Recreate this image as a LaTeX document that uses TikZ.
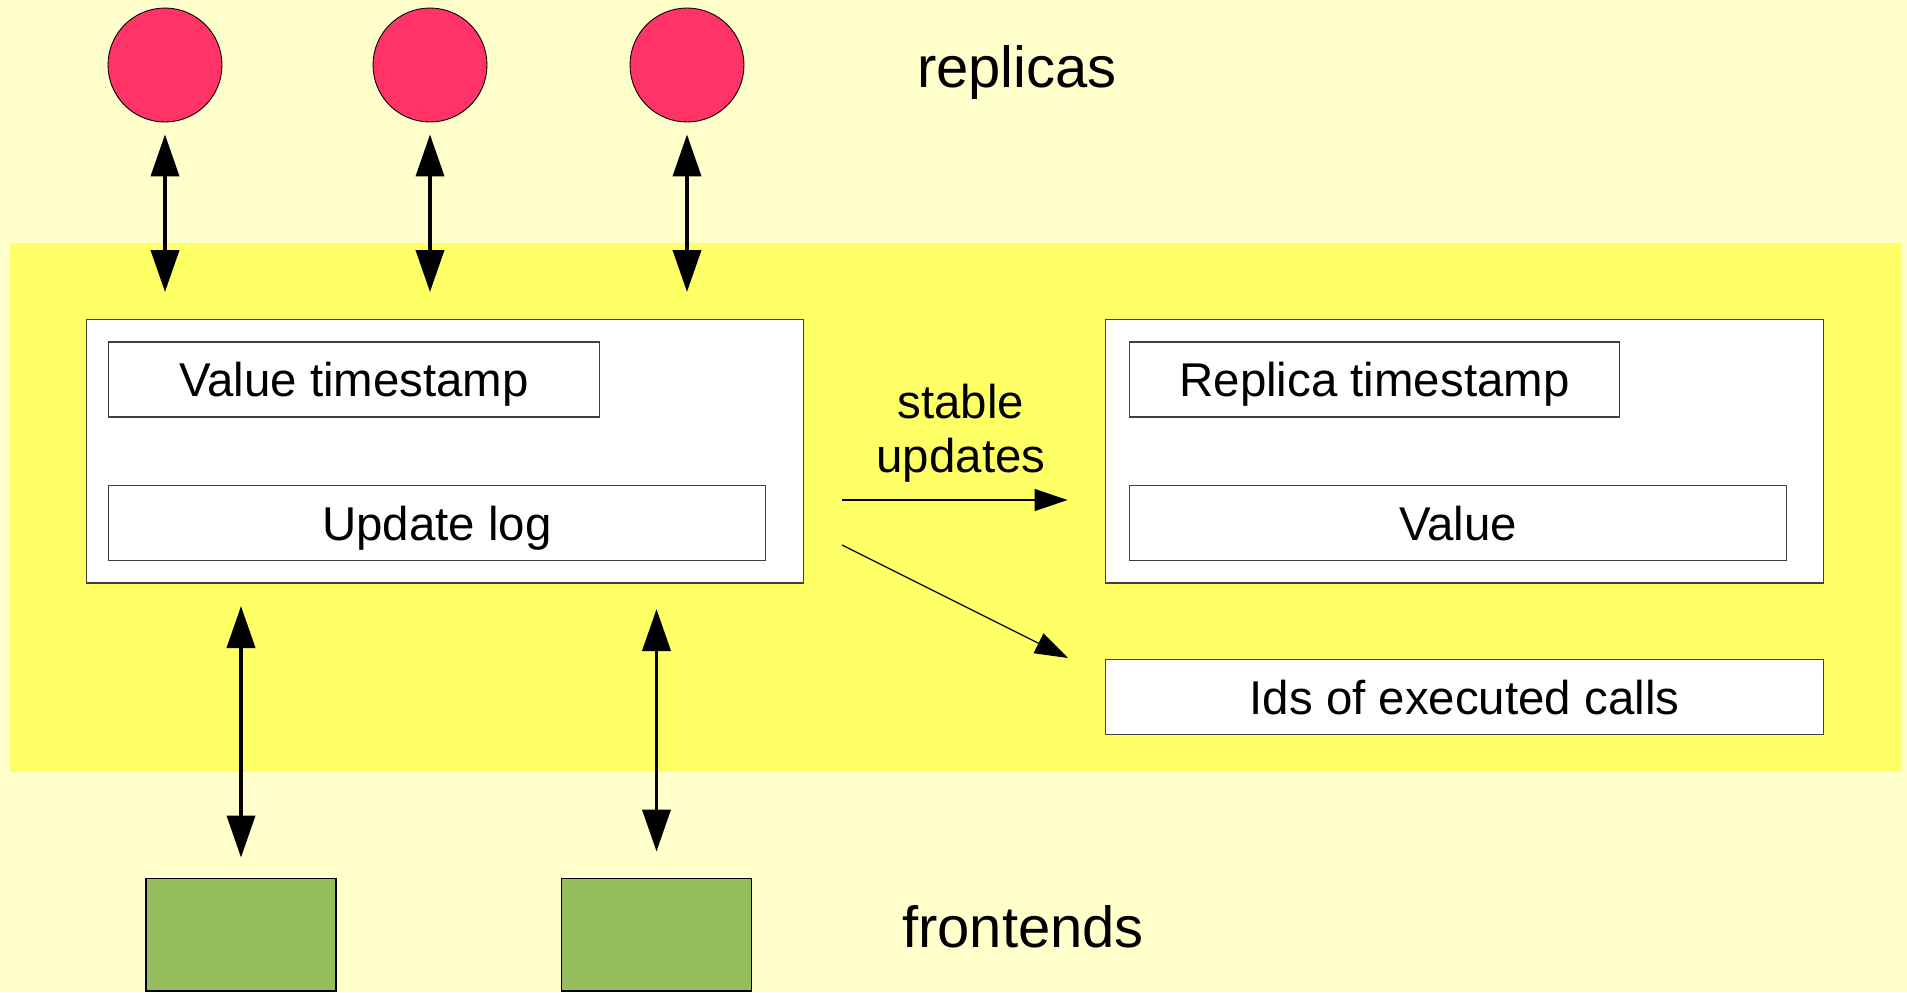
\documentclass[tikz,border=0pt]{standalone}
\usepackage{fontspec}
\setmainfont{Liberation Sans}
\usetikzlibrary{arrows.meta}
\definecolor{paleyellow}{HTML}{FFFFCC}
\definecolor{bandyellow}{HTML}{FFFF66}
\definecolor{replicared}{HTML}{FF3366}
\definecolor{frontgreen}{HTML}{95BD5E}

\begin{document}
\begin{tikzpicture}[x=0.02cm, y=-0.02cm,
	replica/.style = {draw, circle, fill=replicared, minimum size=2.28cm, inner sep=0pt, line width=0.5pt},
	frontend/.style = {draw, rectangle, fill=frontgreen, minimum width=3.8cm, minimum height=2.26cm, inner sep=0pt, line width=0.6pt},
	part/.style = {draw=black!75, fill=white, rectangle, inner sep=0pt, line width=0.6pt, minimum height=1.5cm, text depth=0pt, font=\fontsize{27}{30}\selectfont},
	bigbox/.style = {draw=black!75, fill=white, rectangle, inner sep=0pt, line width=0.6pt, minimum height=5.28cm},
	link/.style = {{Triangle[length=0.84cm,width=0.56cm]}-{Triangle[length=0.84cm,width=0.56cm]}, line width=2.2pt},
	flow/.style = {-{Triangle[length=0.66cm,width=0.44cm]}, line width=0.7pt},
	title/.style = {align=center, font=\fontsize{33}{38}\selectfont}]
	\useasboundingbox (0,0) rectangle (1907,992);
	\fill[paleyellow] (0,0) rectangle (1907,992);
	\fill[bandyellow] (9.7,243) rectangle (1901,772);

	\node[bigbox, minimum width=14.36cm] (store) at (445,451) {};
	\node[part, minimum width=9.84cm] (valts) at (354,379.5) {Value timestamp};
	\node[part, minimum width=13.16cm] (log) at (437,523) {Update log};
	\node[bigbox, minimum width=14.38cm] (state) at (1464.5,451) {};
	\node[part, minimum width=9.82cm] (repts) at (1374.5,379.5) {Replica timestamp};
	\node[part, minimum width=13.16cm] (value) at (1458,523) {Value};
	\node[part, minimum width=14.38cm] (ids) at (1464.5,697) {Ids of executed calls};

	\foreach \n/\x in {1/165,2/430,3/687} {
		\node[replica] (r\n) at (\x,65) {};
		\coordinate (rin\n) at (\x,292);
		\draw[link, shorten <=0.24cm] (r\n) -- (rin\n);
	}
	\node[title, text depth=0pt] (replicas) at (1017,66) {replicas};

	\node[frontend] (f1) at (241,934.5) {};
	\node[frontend] (f2) at (656.5,934.5) {};
	\coordinate (fout1) at (241,606);
	\coordinate (fout2) at (656.5,609);
	\draw[link, shorten >=0.4cm] (fout1) -- (f1);
	\draw[link, shorten >=0.52cm] (fout2) -- (f2);
	\node[title] (frontends) at (1023,927) {frontends};

	\coordinate (su) at (842,500);
	\coordinate (ex) at (842,545);
	\coordinate (exend) at (1068,658);
	\draw[flow, shorten >=0.74cm] (su) -- (su -| state.west);
	\draw[flow] (ex) -- (exend);
	\node[title, font=\fontsize{27}{30.7}\selectfont] (stable) at (961,433) {stable\\updates};
\end{tikzpicture}
\end{document}
